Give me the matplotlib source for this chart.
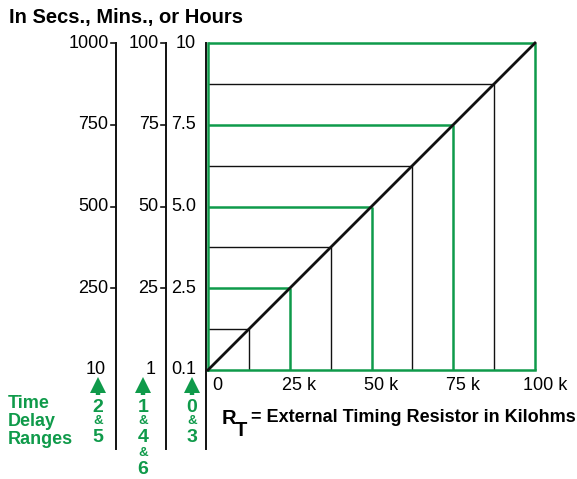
import numpy as np
import matplotlib.pyplot as plt
from matplotlib.lines import Line2D
from matplotlib.transforms import blended_transform_factory

plt.rcParams['font.family'] = ['Liberation Sans', 'DejaVu Sans']

W, H = 577, 479
GREEN = '#0f9a4a'
BLACK = '#111111'

# main scale (hours range 0/3), 0..10 on the plot
levels = [1.25, 2.5, 3.75, 5.0, 6.25, 7.5, 8.75, 10.0]
level_green = [False, True, False, True, False, True, False, True]
rt_k = [12.5, 25, 37.5, 50, 62.5, 75, 87.5, 100]

label_pos = [0, 2.5, 5, 7.5, 10]
sec_labels = ['10', '250', '500', '750', '1000']
min_labels = ['1', '25', '50', '75', '100']
hr_labels = ['0.1', '2.5', '5.0', '7.5', '10']

x_ticks = [0, 25, 50, 75, 100]
x_labels = ['0', '25 k', '50 k', '75 k', '100 k']

ranges = [['2', '&', '5'], ['1', '&', '4', '&', '6'], ['0', '&', '3']]


def fx(px):
    return px / W


def fy(py):
    return 1 - py / H


fig = plt.figure(figsize=(W / 100, H / 100), dpi=100)
ax = fig.add_axes([fx(208), fy(370), (535 - 208) / W, (370 - 43) / H])
ax.set_xlim(0, 100)
ax.set_ylim(0, 10)
ax.axis('off')

# grid lines: horizontal from left edge to diagonal, vertical from diagonal down
for lv, xk, g in zip(levels, rt_k, level_green):
    c = GREEN if g else BLACK
    lw = 1.8 if g else 1.0
    ax.plot([0, xk], [lv, lv], color=c, lw=lw, solid_capstyle='butt', clip_on=False)
    ax.plot([xk, xk], [0, lv], color=c, lw=lw, solid_capstyle='butt', clip_on=False)
ax.plot([0, 100], [0, 0], color=GREEN, lw=1.8, clip_on=False)
ax.plot([0, 0], [0, 10], color=GREEN, lw=1.8, clip_on=False)

# diagonal
ax.plot([0, 100], [0, 10], color=BLACK, lw=2.0, clip_on=False, zorder=5)

# x tick labels
for xt, lab in zip(x_ticks, x_labels):
    ax.text(xt + 3, -0.2, lab, ha='center', va='top', fontsize=13)

# left scales
tr = blended_transform_factory(fig.transFigure, ax.transData)
ybot = (370 - 449) / 327 * 10
axis_x = [115.5, 165.5, 206]
for ax_px, labs, has_ticks in zip(axis_x, [sec_labels, min_labels, hr_labels],
                                   [True, True, False]):
    ax.plot([fx(ax_px), fx(ax_px)], [ybot, 10], color=BLACK, lw=1.4,
            transform=tr, clip_on=False)
    for p, lab in zip(label_pos, labs):
        if has_ticks and p > 0:
            ax.plot([fx(ax_px - 5), fx(ax_px)], [p, p], color=BLACK, lw=1.2,
                    transform=tr, clip_on=False)
            tx = ax_px - 7
        else:
            tx = ax_px - 10
        ax.text(fx(tx), p, lab, ha='right', va='center', fontsize=13,
                transform=tr)

# title
fig.text(fx(9), fy(17), 'In Secs., Mins., or Hours', fontsize=14.5,
         fontweight='bold', ha='left', va='center')

# time delay ranges
for i, word in enumerate(['Time', 'Delay', 'Ranges']):
    fig.text(fx(8), fy(404 + i * 18), word, fontsize=13, fontweight='bold',
             color=GREEN, ha='left', va='center')

arrow_x = [98, 143, 192]
for axp, items in zip(arrow_x, ranges):
    # stem and head of the small up arrow
    fig.add_artist(Line2D([fx(axp), fx(axp)], [fy(395), fy(387)], color=GREEN,
                          lw=3.2, solid_capstyle='butt', transform=fig.transFigure))
    fig.add_artist(Line2D([fx(axp)], [fy(385)], marker='^', markersize=11,
                          color=GREEN, markeredgewidth=0, transform=fig.transFigure))
    y = 407
    for it in items:
        if it == '&':
            fig.text(fx(axp), fy(y - 1), it, fontsize=9.5, fontweight='bold',
                     color=GREEN, ha='center', va='center')
        else:
            fig.text(fx(axp), fy(y), it, fontsize=14, fontweight='bold',
                     color=GREEN, ha='center', va='center')
        y += 15.5

# RT label
fig.text(fx(222), fy(418), 'R', fontsize=14.5, fontweight='bold', ha='left', va='center')
fig.text(fx(235), fy(430), 'T', fontsize=14.5, fontweight='bold', ha='left', va='center')
fig.text(fx(251), fy(418), '= External Timing Resistor in Kilohms', fontsize=13,
         fontweight='bold', ha='left', va='center')

fig.savefig('out.png', dpi=100)
